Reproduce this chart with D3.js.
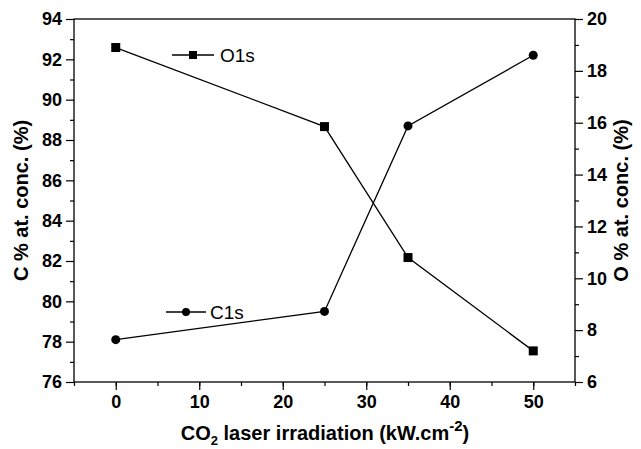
<!DOCTYPE html>
<html>
<head>
<meta charset="utf-8">
<script src="https://cdn.jsdelivr.net/npm/d3@7"></script>
<style>
  body { margin: 0; background: #fff; }
  text { font-family: "Liberation Sans", Arial, sans-serif; }
</style>
</head>
<body>
<script>
let irradiation = [0, 25, 35, 50];
let carbon = [78.1, 79.5, 88.7, 92.2];
let oxygen = [18.9, 15.85, 10.8, 7.2];
let xTicks = [0, 10, 20, 30, 40, 50];
let cTicks = [76, 78, 80, 82, 84, 86, 88, 90, 92, 94];
let oTicks = [6, 8, 10, 12, 14, 16, 18, 20];

let pLeft = 74, pRight = 575, pTop = 19, pBottom = 382;

let svg = d3.select("body").append("svg")
    .attr("width", 641)
    .attr("height", 449);

let x = d3.scaleLinear().domain([-5, 55]).range([pLeft, pRight]);
let yC = d3.scaleLinear().domain([76, 94]).range([pBottom, pTop]);
let yO = d3.scaleLinear().domain([6, 20]).range([pBottom, pTop]);

// frame
svg.append("rect")
    .attr("x", pLeft).attr("y", pTop)
    .attr("width", pRight - pLeft).attr("height", pBottom - pTop)
    .attr("fill", "none").attr("stroke", "#000").attr("stroke-width", 1.3);

function styleAxis(g) {
    g.select(".domain").remove();
    g.selectAll("line").attr("stroke", "#000").attr("stroke-width", 1.2);
    g.selectAll("text").attr("font-size", 18).attr("font-weight", "bold").attr("fill", "#000");
}

// minor ticks
svg.append("g").attr("transform", "translate(0," + pBottom + ")")
    .call(d3.axisBottom(x).tickValues(d3.range(-5, 56, 5)).tickSize(4).tickFormat(""))
    .call(styleAxis);
svg.append("g").attr("transform", "translate(" + pLeft + ",0)")
    .call(d3.axisLeft(yC).tickValues(d3.range(77, 94, 2)).tickSize(4).tickFormat(""))
    .call(styleAxis);
svg.append("g").attr("transform", "translate(" + pRight + ",0)")
    .call(d3.axisRight(yO).tickValues(d3.range(7, 20, 2)).tickSize(4).tickFormat(""))
    .call(styleAxis);

// major ticks
svg.append("g").attr("transform", "translate(0," + pBottom + ")")
    .call(d3.axisBottom(x).tickValues(xTicks).tickSize(8).tickPadding(5))
    .call(styleAxis);
svg.append("g").attr("transform", "translate(" + pLeft + ",0)")
    .call(d3.axisLeft(yC).tickValues(cTicks).tickSize(8).tickPadding(4))
    .call(styleAxis);
svg.append("g").attr("transform", "translate(" + pRight + ",0)")
    .call(d3.axisRight(yO).tickValues(oTicks).tickSize(8).tickPadding(4))
    .call(styleAxis);

// lines
let lineC = d3.line().x(function (d, i) { return x(irradiation[i]); }).y(function (d) { return yC(d); });
let lineO = d3.line().x(function (d, i) { return x(irradiation[i]); }).y(function (d) { return yO(d); });

svg.append("path").attr("d", lineO(oxygen))
    .attr("fill", "none").attr("stroke", "#000").attr("stroke-width", 1.3);
svg.append("path").attr("d", lineC(carbon))
    .attr("fill", "none").attr("stroke", "#000").attr("stroke-width", 1.3);

svg.append("g").selectAll("rect")
    .data(oxygen)
    .enter().append("rect")
    .attr("x", function (d, i) { return x(irradiation[i]) - 4.5; })
    .attr("y", function (d) { return yO(d) - 4.5; })
    .attr("width", 9).attr("height", 9)
    .attr("fill", "#000");

svg.append("g").selectAll("circle")
    .data(carbon)
    .enter().append("circle")
    .attr("cx", function (d, i) { return x(irradiation[i]); })
    .attr("cy", function (d) { return yC(d); })
    .attr("r", 4.5)
    .attr("fill", "#000");

// legends
let lg = svg.append("g");
lg.append("line").attr("x1", 172).attr("x2", 214).attr("y1", 55).attr("y2", 55)
    .attr("stroke", "#000").attr("stroke-width", 1.3);
lg.append("rect").attr("x", 189).attr("y", 51).attr("width", 8).attr("height", 8).attr("fill", "#000");
lg.append("text").attr("x", 220).attr("y", 62).attr("font-size", 19).text("O1s");

lg.append("line").attr("x1", 166).attr("x2", 206).attr("y1", 312).attr("y2", 312)
    .attr("stroke", "#000").attr("stroke-width", 1.3);
lg.append("circle").attr("cx", 186).attr("cy", 312).attr("r", 4).attr("fill", "#000");
lg.append("text").attr("x", 210).attr("y", 319).attr("font-size", 19).text("C1s");

// axis titles
svg.append("text")
    .attr("transform", "translate(28," + ((pTop + pBottom) / 2) + ") rotate(-90)")
    .attr("text-anchor", "middle").attr("font-size", 20).attr("font-weight", "bold")
    .text("C % at. conc. (%)");
svg.append("text")
    .attr("transform", "translate(628," + ((pTop + pBottom) / 2) + ") rotate(-90)")
    .attr("text-anchor", "middle").attr("font-size", 20).attr("font-weight", "bold")
    .text("O % at. conc. (%)");

let xt = svg.append("text")
    .attr("x", 325).attr("y", 440)
    .attr("text-anchor", "middle").attr("font-size", 20).attr("font-weight", "bold");
xt.append("tspan").text("CO");
xt.append("tspan").attr("font-size", 13).attr("dy", 5).text("2");
xt.append("tspan").attr("dy", -5).text(" laser irradiation (kW.cm");
xt.append("tspan").attr("font-size", 15).attr("dy", -9).text("-2");
xt.append("tspan").attr("dy", 9).text(")");
</script>
</body>
</html>
